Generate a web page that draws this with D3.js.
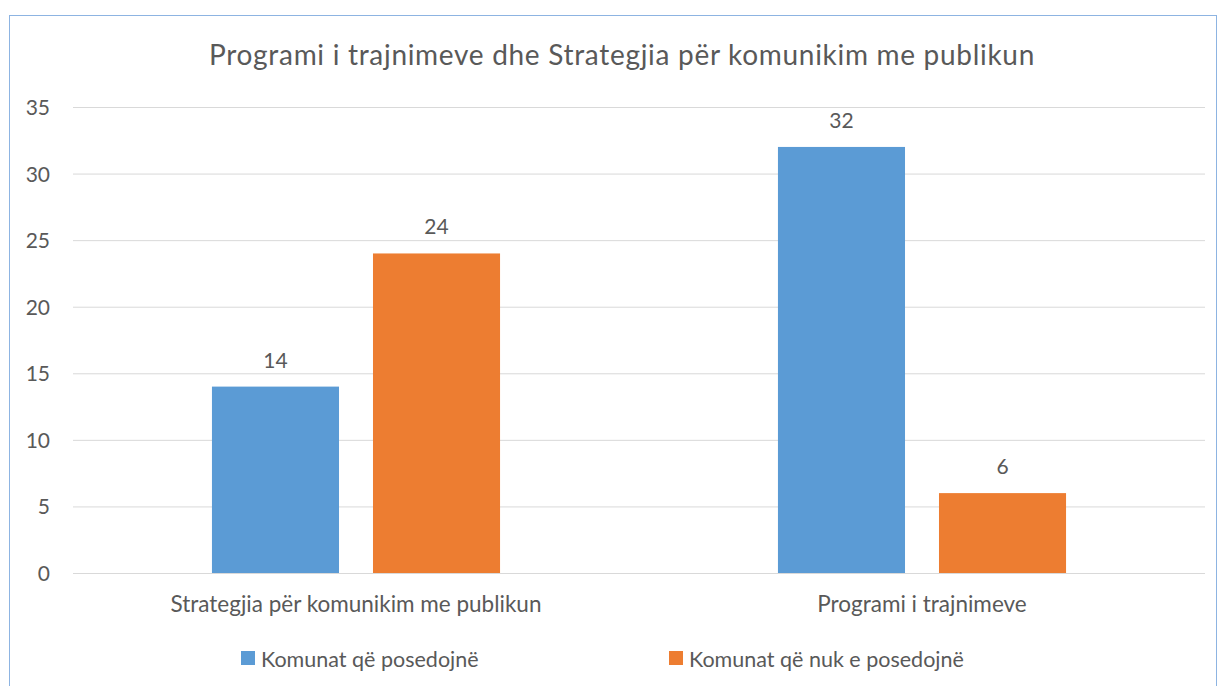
<!DOCTYPE html>
<html>
<head>
<meta charset="utf-8">
<script src="https://cdn.jsdelivr.net/npm/d3@7/dist/d3.min.js"></script>
<style>
  body { margin: 0; background: #fff; }
  text { font-family: Lato, "Open Sans", sans-serif; fill: #595959; }
</style>
</head>
<body>
<div id="chart"></div>
<script>
// kategorite dhe seritë
var categories = ['Strategjia për komunikim me publikun', 'Programi i trajnimeve'];
var seriesNames = ['Komunat që posedojnë', 'Komunat që nuk e posedojnë'];
var posedojne = [14, 32];
var nukPosedojne = [24, 6];
var yTicks = [0, 5, 10, 15, 20, 25, 30, 35];
var colors = ['#5B9BD5', '#ED7D31'];

var W = 1219, H = 686;
var svg = d3.select('#chart').append('svg').attr('width', W).attr('height', H);

// korniza
svg.append('rect').attr('x', 9.5).attr('y', 15.5).attr('width', 1207).attr('height', 680)
  .attr('fill', 'none').attr('stroke', '#8DB4E2').attr('stroke-width', 1);

svg.append('text').attr('x', 622).attr('y', 65).attr('text-anchor', 'middle')
  .style('font-size', '28px').style('letter-spacing', '0.7px')
  .text('Programi i trajnimeve dhe Strategjia për komunikim me publikun');

var pLeft = 73, pRight = 1205, pTop = 107, pBottom = 573;

var y = d3.scaleLinear().domain([0, 35]).range([pBottom, pTop]);
var x0 = d3.scaleBand().domain(categories).range([pLeft, pRight]).paddingInner(0.491).paddingOuter(0.2455);
var x1 = d3.scaleBand().domain([0, 1]).range([0, x0.bandwidth()]).paddingInner(0.211);

// rrjeta
svg.append('g').selectAll('line').data(yTicks).enter().append('line')
  .attr('x1', pLeft).attr('x2', pRight)
  .attr('y1', function(d) { return y(d) + 0.5; }).attr('y2', function(d) { return y(d) + 0.5; })
  .attr('stroke', '#D9D9D9').attr('stroke-width', 1);

svg.append('g').selectAll('text').data(yTicks).enter().append('text')
  .attr('x', 50).attr('y', function(d) { return y(d) + 8; })
  .attr('text-anchor', 'end').style('font-size', '21px')
  .text(function(d) { return d; });

var rows = categories.map(function(c, i) { return { cat: c, vals: [posedojne[i], nukPosedojne[i]] }; });

var g = svg.append('g').selectAll('g').data(rows).enter().append('g')
  .attr('transform', function(d) { return 'translate(' + x0(d.cat) + ',0)'; });

g.selectAll('rect').data(function(d) { return d.vals; }).enter().append('rect')
  .attr('x', function(d, i) { return x1(i); })
  .attr('y', function(d) { return y(d); })
  .attr('width', x1.bandwidth())
  .attr('height', function(d) { return y(0) - y(d); })
  .attr('fill', function(d, i) { return colors[i]; });

g.selectAll('text').data(function(d) { return d.vals; }).enter().append('text')
  .attr('x', function(d, i) { return x1(i) + x1.bandwidth() / 2; })
  .attr('y', function(d) { return y(d) - 19; })
  .attr('text-anchor', 'middle').style('font-size', '21px')
  .text(function(d) { return d; });

// etiketat e kategorive
svg.append('g').selectAll('text').data(categories).enter().append('text')
  .attr('x', function(d) { return x0(d) + x0.bandwidth() / 2; })
  .attr('y', 612).attr('text-anchor', 'middle').style('font-size', '22.5px')
  .text(function(d) { return d; });

// legjenda
var legX = [241, 669];
var leg = svg.append('g').selectAll('g').data(seriesNames).enter().append('g')
  .attr('transform', function(d, i) { return 'translate(' + legX[i] + ',651)'; });
leg.append('rect').attr('width', 14).attr('height', 14).attr('fill', function(d, i) { return colors[i]; });
leg.append('text').attr('x', 20).attr('y', 16).style('font-size', '21.5px').text(function(d) { return d; });
</script>
</body>
</html>
